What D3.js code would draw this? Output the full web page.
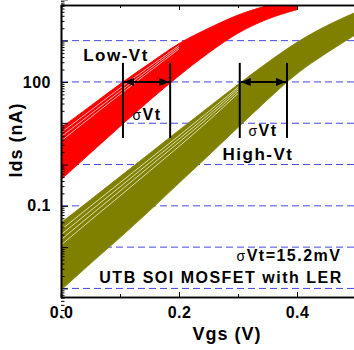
<!DOCTYPE html>
<html>
<head>
<meta charset="utf-8">
<script src="https://cdn.jsdelivr.net/npm/d3@7"></script>
<style>
  body { margin: 0; background: #fff; }
  svg text { font-family: "Liberation Sans", Arial, sans-serif; font-weight: bold; fill: #000; }
</style>
</head>
<body>
<svg id="chart"></svg>
<script>
// gate voltage grids (V)
const vgsLow = [0, 0.05, 0.1, 0.15, 0.2, 0.25, 0.3, 0.35, 0.4];
const vgsHigh = [0, 0.05, 0.1, 0.15, 0.2, 0.25, 0.3, 0.35, 0.4, 0.45, 0.5];

// edges of the Low-Vt family (Ids in nA)
const lowVtUpper = [7.8, 26.3, 89.1, 282, 851, 1995, 4169, 7079, 10470];
const lowVtLower = [0.43, 1.9, 8.3, 35.5, 141, 501, 1514, 3311, 5623];

// edges of the High-Vt family (Ids in nA)
const highVtUpper = [0.039, 0.14, 0.51, 1.86, 6.8, 24.5, 87, 295, 910, 2290, 4900];
const highVtLower = [0.00091, 0.004, 0.017, 0.076, 0.355, 1.66, 7.9, 37, 158, 500, 1410];

// visible gaps between the top curves of each family
const vgsLowGaps = [0, 0.05, 0.1, 0.15, 0.2];
const lowVtGaps = [
  [5.9, 20.4, 70.8, 234, 759],
  [4.7, 16.6, 58.9, 204, 692],
  [3.7, 13.8, 50, 178, 631]
];
const vgsHighGaps = [0, 0.05, 0.1, 0.15, 0.2, 0.25, 0.3];
const highVtGaps = [
  [0.0263, 0.098, 0.363, 1.35, 5.01, 19.1, 74.1],
  [0.020, 0.076, 0.288, 1.10, 4.17, 16.2, 67.6],
  [0.0151, 0.0589, 0.229, 0.891, 3.47, 13.8, 60.3],
  [0.0112, 0.0447, 0.174, 0.692, 2.75, 11.5, 52.5]
];

// sigma-Vt markers: Vgs where the edges cross 100 nA
const lowVtMarks = [0.105, 0.185];
const highVtMarks = [0.303, 0.383];
const markLevel = 100;
const markSpan = [4.4, 290];

// axes
const gridLevels = [1e-3, 1e-2, 1e-1, 1, 10, 100, 1000];
const yLabelled = [0.1, 100];
const xMajor = [0, 0.2, 0.4];
const xMinor = [0.1, 0.3, 0.5];

class IVChart {
  constructor(_config) {
    this.config = {
      parentElement: _config.parentElement,
      containerWidth: _config.containerWidth || 354,
      containerHeight: _config.containerHeight || 350,
      margin: _config.margin || {top: 5, right: -2, bottom: 53, left: 61}
    };
    this.initVis();
  }

  initVis() {
    let vis = this;
    vis.width = vis.config.containerWidth - vis.config.margin.left - vis.config.margin.right;
    vis.height = vis.config.containerHeight - vis.config.margin.top - vis.config.margin.bottom;

    vis.xScale = d3.scaleLinear()
        .domain([0, 0.5])
        .range([0, vis.width]);

    vis.yScale = d3.scaleLog()
        .domain([6.2e-4, 7.3e3])
        .range([vis.height, 0]);

    vis.svg = d3.select(vis.config.parentElement)
        .attr('width', vis.config.containerWidth)
        .attr('height', vis.config.containerHeight);

    vis.svg.append('defs').append('clipPath')
        .attr('id', 'plot-clip')
      .append('rect')
        .attr('width', vis.width)
        .attr('height', vis.height);

    let arrow = vis.svg.select('defs').append('marker')
        .attr('id', 'head')
        .attr('viewBox', '0 0 10 8')
        .attr('refX', 10).attr('refY', 4)
        .attr('markerWidth', 11).attr('markerHeight', 8)
        .attr('markerUnits', 'userSpaceOnUse')
        .attr('orient', 'auto-start-reverse');
    arrow.append('path').attr('d', 'M0,0L10,4L0,8Z').attr('fill', '#000');

    vis.chart = vis.svg.append('g')
        .attr('transform', `translate(${vis.config.margin.left},${vis.config.margin.top})`);
  }

  renderVis() {
    let vis = this;
    let x = vis.xScale, y = vis.yScale;

    // dashed decade lines
    vis.chart.append('g').selectAll('line')
        .data(gridLevels)
      .join('line')
        .attr('x1', 0).attr('x2', vis.width)
        .attr('y1', d => y(d)).attr('y2', d => y(d))
        .attr('stroke', '#4646e6')
        .attr('stroke-width', 1)
        .attr('stroke-dasharray', '7,4');

    let plot = vis.chart.append('g').attr('clip-path', 'url(#plot-clip)');

    let band = (xs, lo, hi) => d3.area()
        .x((d, i) => x(xs[i]))
        .y0((d, i) => y(lo[i]))
        .y1((d, i) => y(hi[i]))
        .curve(d3.curveMonotoneX)(xs);

    let strand = xs => d3.line()
        .x((d, i) => x(xs[i]))
        .y(d => y(d))
        .curve(d3.curveMonotoneX);

    plot.append('path')
        .attr('d', band(vgsHigh, highVtLower, highVtUpper))
        .attr('fill', '#808000')
        .attr('stroke', '#808000').attr('stroke-width', 0.8);

    plot.selectAll('.gap-high')
        .data(highVtGaps)
      .join('path')
        .attr('class', 'gap-high')
        .attr('d', d => strand(vgsHighGaps)(d))
        .attr('fill', 'none')
        .attr('stroke', '#f4f4dc').attr('stroke-width', 0.8);

    plot.append('path')
        .attr('d', band(vgsLow, lowVtLower, lowVtUpper))
        .attr('fill', '#ff0000')
        .attr('stroke', '#ff0000').attr('stroke-width', 0.8);

    plot.selectAll('.gap-low')
        .data(lowVtGaps)
      .join('path')
        .attr('class', 'gap-low')
        .attr('d', d => strand(vgsLowGaps)(d))
        .attr('fill', 'none')
        .attr('stroke', '#ffdcdc').attr('stroke-width', 0.8);

    // sigma-Vt markers
    [lowVtMarks, highVtMarks].forEach(m => {
      let g = vis.chart.append('g');
      g.selectAll('line.v')
          .data(m)
        .join('line')
          .attr('class', 'v')
          .attr('x1', d => x(d)).attr('x2', d => x(d))
          .attr('y1', y(markSpan[0])).attr('y2', y(markSpan[1]))
          .attr('stroke', '#000').attr('stroke-width', 2);
      g.append('line')
          .attr('x1', x(m[0]) + 1).attr('x2', x(m[1]) - 1)
          .attr('y1', y(markLevel)).attr('y2', y(markLevel))
          .attr('stroke', '#000').attr('stroke-width', 2)
          .attr('marker-start', 'url(#head)')
          .attr('marker-end', 'url(#head)');
    });

    // axes
    let yMajor = d3.axisLeft(y).tickValues(gridLevels.concat([1e4]))
        .tickSizeInner(-7).tickSizeOuter(0).tickPadding(10)
        .tickFormat(d => yLabelled.includes(d) ? d3.format('~g')(d) : '');
    let minors = [];
    gridLevels.concat([1e-4]).forEach(dec => d3.range(2, 10).forEach(k => minors.push(dec * k)));
    let yMinor = d3.axisLeft(y).tickValues(minors).tickSize(-3.5).tickFormat('');

    vis.chart.append('g').attr('class', 'axis').call(yMinor);
    vis.chart.append('g').attr('class', 'axis').call(yMajor);

    vis.chart.append('g').attr('class', 'axis')
        .attr('transform', `translate(0,${vis.height})`)
        .call(d3.axisBottom(x).tickValues(xMajor).tickSizeInner(-5).tickSizeOuter(0)
          .tickPadding(10).tickFormat(d3.format('.1f')));
    vis.chart.append('g').attr('class', 'axis')
        .attr('transform', `translate(0,${vis.height})`)
        .call(d3.axisBottom(x).tickValues(xMinor).tickSize(-3).tickFormat(''));
    vis.chart.append('g').attr('class', 'axis')
        .call(d3.axisTop(x).tickValues(xMajor).tickSizeInner(-5).tickSizeOuter(0).tickFormat(''));
    vis.chart.append('g').attr('class', 'axis')
        .call(d3.axisTop(x).tickValues(xMinor).tickSize(-3).tickFormat(''));

    vis.chart.selectAll('.axis path').attr('stroke', '#000').attr('stroke-width', 1.6);
    vis.chart.selectAll('.axis line').attr('stroke', '#000').attr('stroke-width', 1);
    vis.chart.selectAll('.axis text')
        .attr('font-size', 16).attr('font-family', '"Liberation Sans", Arial, sans-serif')
        .attr('font-weight', 'bold').attr('letter-spacing', 0.5);

    // titles and notes
    vis.svg.append('text')
        .attr('x', 227).attr('y', 340)
        .attr('text-anchor', 'middle')
        .attr('font-size', 18).attr('letter-spacing', 1)
        .text('Vgs (V)');
    vis.svg.append('text')
        .attr('transform', 'translate(22,140) rotate(-90)')
        .attr('text-anchor', 'middle')
        .attr('font-size', 18).attr('letter-spacing', 1)
        .text('Ids (nA)');

    let note = (tx, ty, size, parts) => {
      let t = vis.svg.append('text')
          .attr('x', tx).attr('y', ty)
          .attr('text-anchor', 'middle')
          .attr('font-size', size).attr('letter-spacing', 1.5);
      parts.forEach(p => {
        let s = t.append('tspan').text(p.s);
        if (p.sigma) s.attr('font-weight', 'normal').attr('font-size', size - 2);
      });
    };
    note(116, 61, 17, [{s: 'Low-Vt'}]);
    note(147, 120, 16, [{s: 'σ', sigma: true}, {s: 'Vt'}]);
    note(263, 136, 16, [{s: 'σ', sigma: true}, {s: 'Vt'}]);
    note(258, 160, 17, [{s: 'High-Vt'}]);
    note(289, 261, 16, [{s: 'σ', sigma: true}, {s: 'Vt=15.2mV'}]);
    note(221, 283, 16, [{s: 'UTB SOI MOSFET with LER'}]);
  }
}

const chart = new IVChart({parentElement: '#chart'});
chart.renderVis();
</script>
</body>
</html>
